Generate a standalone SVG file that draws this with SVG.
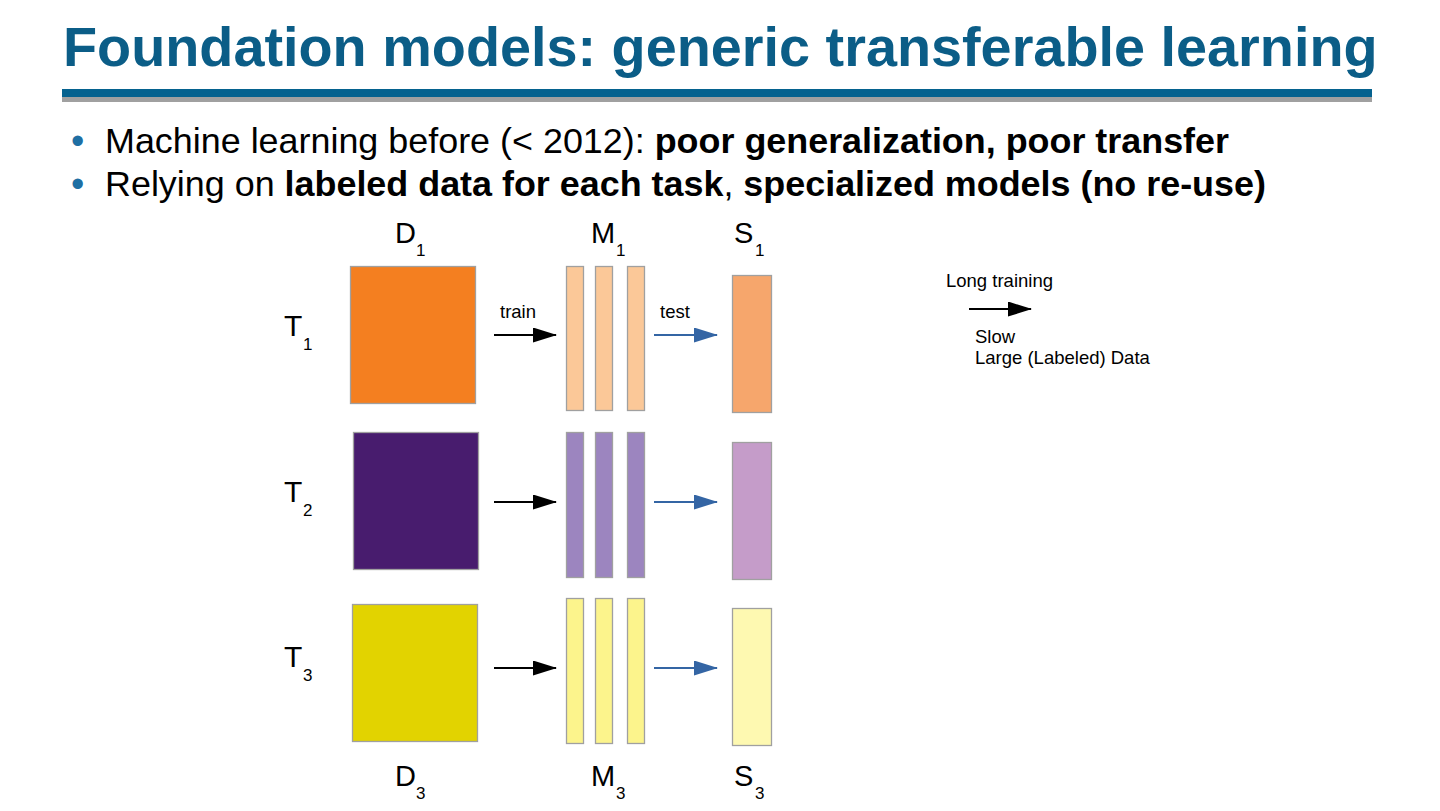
<svg xmlns="http://www.w3.org/2000/svg" width="1440" height="811" viewBox="0 0 1440 811">
<defs>
<marker id="ah" markerWidth="24" markerHeight="16" refX="23" refY="7.5" orient="auto" markerUnits="userSpaceOnUse"><path d="M0,0 L24,7.5 L0,15 z" fill="#000"/></marker>
<marker id="ahb" markerWidth="24" markerHeight="16" refX="23" refY="7.5" orient="auto" markerUnits="userSpaceOnUse"><path d="M0,0 L24,7.5 L0,15 z" fill="#3465a4"/></marker>
</defs>
<style>
text{font-family:"Liberation Sans",Arial,sans-serif;fill:#000}
.lbl{font-size:29px}
.tl{font-size:30px}
.sub{font-size:17px}
.sm{font-size:18.5px}
.bul{font-size:38px;fill:#1f6fa3}
.box{stroke:#a0a0a0;stroke-width:1.3}
.tr{stroke:#000;stroke-width:2;fill:none}
.te{stroke:#3465a4;stroke-width:2;fill:none}
</style>
<rect width="1440" height="811" fill="#fff"/>
<text x="63" y="66" style="font-size:55.8px;font-weight:bold;fill:#0b5d87">Foundation models: generic transferable learning</text>
<rect x="62" y="89" width="1310" height="8" fill="#05628f"/>
<rect x="62" y="97" width="1310" height="5" fill="#a0a0a0"/>
<text class="bul" x="71" y="154">•</text>
<text x="105" y="153" style="font-size:35.9px">Machine learning before (&lt; 2012): <tspan font-weight="bold">poor generalization, poor transfer</tspan></text>
<text class="bul" x="71" y="197">•</text>
<text x="105" y="196" style="font-size:35.9px">Relying on <tspan font-weight="bold">labeled data for each task</tspan>, <tspan font-weight="bold">specialized models (no re-use)</tspan></text>

<g id="labels-top">
<text class="lbl" x="395" y="243">D</text><text class="sub" x="416" y="256">1</text>
<text class="lbl" x="591" y="243">M</text><text class="sub" x="616" y="256">1</text>
<text class="lbl" x="734" y="243">S</text><text class="sub" x="755" y="256">1</text>
</g>
<g id="labels-bottom">
<text class="lbl" x="395" y="786">D</text><text class="sub" x="416" y="799">3</text>
<text class="lbl" x="591" y="786">M</text><text class="sub" x="616" y="799">3</text>
<text class="lbl" x="734" y="786">S</text><text class="sub" x="755" y="799">3</text>
</g>
<g id="task-labels">
<text class="tl" x="284" y="336">T</text><text class="sub" x="303" y="350">1</text>
<text class="tl" x="284" y="502">T</text><text class="sub" x="303" y="516">2</text>
<text class="tl" x="284" y="667">T</text><text class="sub" x="303" y="681">3</text>
</g>

<g id="D1"><rect class="box" x="350.5" y="266.5" width="125" height="137" fill="#f47f20"/></g>
<g id="M1">
<rect class="box" x="566.5" y="266.5" width="17" height="144" fill="#fbc898"/>
<rect class="box" x="595.5" y="266.5" width="17" height="144" fill="#fbc898"/>
<rect class="box" x="627.5" y="266.5" width="17" height="144" fill="#fbc898"/>
</g>
<g id="S1"><rect class="box" x="732.5" y="275.5" width="39" height="137" fill="#f6a66c"/></g>

<g id="D2"><rect class="box" x="353.5" y="432.5" width="125" height="137" fill="#481c6e"/></g>
<g id="M2">
<rect class="box" x="566.5" y="432.5" width="17" height="145" fill="#9c85bf"/>
<rect class="box" x="595.5" y="432.5" width="17" height="145" fill="#9c85bf"/>
<rect class="box" x="627.5" y="432.5" width="17" height="145" fill="#9c85bf"/>
</g>
<g id="S2"><rect class="box" x="732.5" y="442.5" width="39" height="137" fill="#c59cc9"/></g>

<g id="D3"><rect class="box" x="352.5" y="604.5" width="125" height="137" fill="#e2d300"/></g>
<g id="M3">
<rect class="box" x="566.5" y="598.5" width="17" height="145" fill="#fcf48c"/>
<rect class="box" x="595.5" y="598.5" width="17" height="145" fill="#fcf48c"/>
<rect class="box" x="627.5" y="598.5" width="17" height="145" fill="#fcf48c"/>
</g>
<g id="S3"><rect class="box" x="732.5" y="608.5" width="39" height="137" fill="#fef9b1"/></g>

<g id="connectors">
<line class="tr" x1="494" y1="335" x2="556" y2="335" marker-end="url(#ah)"/>
<line class="te" x1="654" y1="335" x2="717" y2="335" marker-end="url(#ahb)"/>
<line class="tr" x1="494" y1="502" x2="556" y2="502" marker-end="url(#ah)"/>
<line class="te" x1="654" y1="502" x2="717" y2="502" marker-end="url(#ahb)"/>
<line class="tr" x1="494" y1="668" x2="556" y2="668" marker-end="url(#ah)"/>
<line class="te" x1="654" y1="668" x2="717" y2="668" marker-end="url(#ahb)"/>
</g>
<text class="sm" x="500" y="318">train</text>
<text class="sm" x="660" y="318">test</text>

<g id="legend">
<text class="sm" x="946" y="287">Long training</text>
<line class="tr" x1="969" y1="309" x2="1031" y2="309" marker-end="url(#ah)"/>
<text class="sm" x="975" y="343">Slow</text>
<text class="sm" x="975" y="364">Large (Labeled) Data</text>
</g>
</svg>
